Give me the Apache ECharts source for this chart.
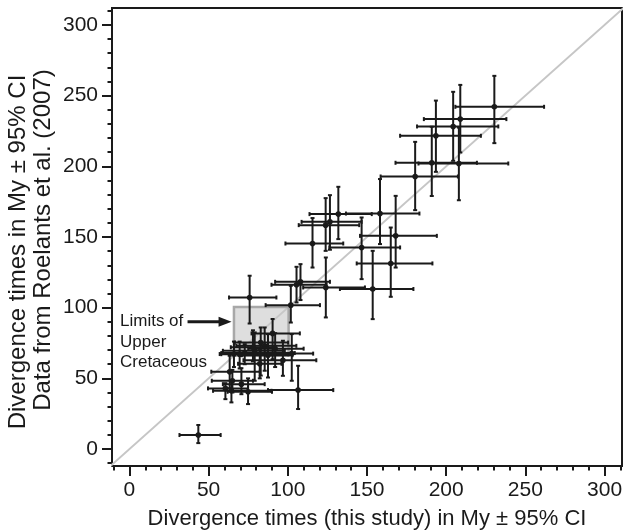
<!DOCTYPE html>
<html><head><meta charset="utf-8">
<script src="https://cdn.jsdelivr.net/npm/echarts@6/dist/echarts.min.js"></script>
<style>html,body{margin:0;padding:0;background:#fff}#c{width:623px;height:531px}</style>
</head><body><div id="c"></div>
<script>
// Divergence time estimates: this study (x) vs Roelants et al. 2007 (y), with 95% CI
const xValues = [230.4,208.9,204.4,193.5,190.9,208.0,180.4,158.2,168.1,131.9,126.6,123.9,115.6,146.6,165.0,153.6,124.0,108.0,105.5,101.9,75.9,106.5,43.5,
  90.4,82.9,85.4,79.1,72.8,69.6,87.5,96.9,102.5,82.3,63.3,60.6,64.4,70.7,74.9,65.0,66.0,92.0,78.0];
const yValues = [242.1,233.4,228.2,221.6,202.5,202.0,192.8,166.6,150.8,166.2,160.7,158.4,145.4,142.6,131.3,113.2,114.3,118.3,116.2,101.8,107.2,41.7,9.9,
  81.8,75.3,73.0,69.5,67.9,67.1,66.4,62.8,67.5,60.3,54.7,42.9,41.2,45.9,40.5,48.3,67.2,71.0,72.0];
const xLower = [205.8,185.9,181.6,170.9,168.0,182.5,158.6,136.7,145.6,113.7,108.7,106.9,98.5,126.2,143.5,132.9,109.7,92.0,89.7,86.0,62.9,87.5,31.6,
  77.1,66.5,67.5,59.0,58.0,58.0,71.0,72.0,86.0,68.6,51.7,49.6,52.8,59.0,62.0,52.0,57.0,75.0,64.0];
const xUpper = [261.8,238.0,232.9,221.9,219.4,239.2,207.4,183.1,194.1,153.0,146.6,145.1,135.0,170.9,191.3,179.3,148.7,126.6,124.5,120.3,92.8,128.7,57.6,
  107.6,100.2,105.4,98.1,104.4,100.2,103.0,118.0,116.0,96.0,82.3,74.9,89.7,85.4,90.0,78.0,81.2,110.0,92.0];
const yLower = [216.4,209.8,203.9,196.1,179.0,176.0,169.0,145.0,128.4,148.5,141.0,140.2,128.4,120.2,107.7,91.9,93.1,105.4,103.7,89.5,88.8,28.3,4.2,
  63.5,52.0,55.4,48.3,60.0,57.0,50.6,51.8,48.3,50.0,43.0,35.3,33.0,38.8,31.8,40.0,58.0,58.0,62.0];
const yUpper = [264.0,257.6,252.7,246.5,228.0,227.4,217.3,191.0,179.1,185.5,179.6,177.5,163.4,163.8,156.7,140.2,135.5,130.8,128.9,115.5,122.6,58.9,17.0,
  92.0,86.0,86.0,82.5,74.2,76.0,81.3,76.6,81.3,70.0,66.0,46.6,48.3,57.2,50.0,56.0,76.0,82.0,84.0];

const xTickValues = [0,50,100,150,200,250,300];
const yTickValues = [0,50,100,150,200,250,300];
const minorTickValues = [-10,0,10,20,30,40,50,60,70,80,90,100,110,120,130,140,150,160,170,180,190,200,210,220,230,240,250,260,270,280,290,300,310];
const cretaceousLimits = [66, 100.5];
const arrowFrom = [36.7, 90.0];
const arrowTo = [64.5, 90.0];
const diagonalLine = [[-12,-12],[312,312]];
const annotationLines = ['Limits of', 'Upper', 'Cretaceous'];
const xTitle = 'Divergence times (this study) in My ± 95% CI';
const yTitle1 = 'Divergence times in My ± 95% CI';
const yTitle2 = 'Data from Roelants et al. (2007)';

const INK = '#1a1a1a';
const FONT = '"Liberation Sans", Arial, Helvetica, sans-serif';

const errData = xValues.map((x, i) => [x, yValues[i], xLower[i], xUpper[i], yLower[i], yUpper[i]]);

const chart = echarts.init(document.getElementById('c'), null, {renderer: 'canvas'});

function labelAxis(ticks, extra) {
  return Object.assign({
    type: 'value',
    axisLine: {show: false, onZero: false},
    axisTick: {show: false},
    axisLabel: {show: true, customValues: ticks, color: INK, fontSize: 21, fontFamily: FONT, margin: 14},
    splitLine: {show: false}
  }, extra);
}
function tickAxis(ticks, len, extra) {
  return Object.assign({
    type: 'value',
    axisLine: {show: false, onZero: false},
    axisTick: {show: true, inside: false, customValues: ticks, length: len, lineStyle: {color: INK, width: 2}},
    axisLabel: {show: false},
    splitLine: {show: false}
  }, extra);
}

chart.setOption({
  animation: false,
  backgroundColor: '#fff',
  grid: {left: 112, right: 1, top: 8, bottom: 65, show: true, borderColor: INK, borderWidth: 2,
    backgroundColor: 'transparent', containLabel: false, outerBoundsMode: 'none'},
  xAxis: [
    labelAxis(xTickValues, {min: -11, max: 311, position: 'bottom',
      name: xTitle, nameLocation: 'middle', nameGap: 42,
      nameTextStyle: {color: INK, fontSize: 22, fontFamily: FONT}}),
    tickAxis(minorTickValues, 4.5, {min: -11, max: 311, position: 'bottom', offset: 0}),
    tickAxis(xTickValues, 10, {min: -11, max: 311, position: 'bottom', offset: 0})
  ],
  yAxis: [
    labelAxis(yTickValues, {min: -12, max: 312, position: 'left'}),
    tickAxis(minorTickValues, 4.5, {min: -12, max: 312, position: 'left', offset: 0}),
    tickAxis(yTickValues, 10, {min: -12, max: 312, position: 'left', offset: 0})
  ],
  graphic: [
    {type: 'text', x: 18, y: 252, rotation: Math.PI / 2, style: {text: yTitle1, fill: INK, font: '24px ' + FONT, textAlign: 'center', textVerticalAlign: 'middle'}},
    {type: 'text', x: 43, y: 240, rotation: Math.PI / 2, style: {text: yTitle2, fill: INK, font: '24px ' + FONT, textAlign: 'center', textVerticalAlign: 'middle'}},
    {type: 'text', x: 120, y: 321, style: {text: annotationLines[0], fill: INK, font: '17px ' + FONT, textAlign: 'left', textVerticalAlign: 'middle'}},
    {type: 'text', x: 120, y: 342, style: {text: annotationLines[1], fill: INK, font: '17px ' + FONT, textAlign: 'left', textVerticalAlign: 'middle'}},
    {type: 'text', x: 120, y: 362, style: {text: annotationLines[2], fill: INK, font: '17px ' + FONT, textAlign: 'left', textVerticalAlign: 'middle'}}
  ],
  series: [
    {
      type: 'line', data: diagonalLine, symbol: 'none', silent: true, z: 1,
      lineStyle: {color: '#c6c6c6', width: 2}
    },
    {
      type: 'custom', z: 2, silent: true,
      data: [[cretaceousLimits[0], cretaceousLimits[1], cretaceousLimits[0], cretaceousLimits[1]]],
      renderItem: function (params, api) {
        const p0 = api.coord([api.value(0), api.value(2)]);
        const p1 = api.coord([api.value(1), api.value(3)]);
        return {type: 'rect', shape: {x: p0[0], y: p1[1], width: p1[0] - p0[0], height: p0[1] - p1[1]},
          style: {fill: 'rgba(200,200,200,0.6)', stroke: '#a8a8a8', lineWidth: 2.5}};
      }
    },
    {
      type: 'custom', z: 3, silent: true,
      data: [[arrowFrom[0], arrowFrom[1], arrowTo[0], arrowTo[1]]],
      renderItem: function (params, api) {
        const a = api.coord([api.value(0), api.value(1)]);
        const b = api.coord([api.value(2), api.value(3)]);
        return {type: 'group', children: [
          {type: 'line', shape: {x1: a[0], y1: a[1], x2: b[0] - 10, y2: b[1]}, style: {stroke: INK, lineWidth: 3}},
          {type: 'polygon', shape: {points: [[b[0], b[1]], [b[0] - 13, b[1] - 5], [b[0] - 13, b[1] + 5]]}, style: {fill: INK}}
        ]};
      }
    },
    {
      type: 'custom', z: 4, silent: true, clip: false,
      data: errData,
      renderItem: function (params, api) {
        const x = api.value(0), y = api.value(1);
        const c = api.coord([x, y]);
        const l = api.coord([api.value(2), y]);
        const r = api.coord([api.value(3), y]);
        const b = api.coord([x, api.value(4)]);
        const t = api.coord([x, api.value(5)]);
        const st = {stroke: INK, lineWidth: 2};
        const cap = 2;
        return {type: 'group', children: [
          {type: 'line', shape: {x1: l[0], y1: c[1], x2: r[0], y2: c[1]}, style: st},
          {type: 'line', shape: {x1: c[0], y1: t[1], x2: c[0], y2: b[1]}, style: st},
          {type: 'line', shape: {x1: l[0], y1: c[1] - cap, x2: l[0], y2: c[1] + cap}, style: st},
          {type: 'line', shape: {x1: r[0], y1: c[1] - cap, x2: r[0], y2: c[1] + cap}, style: st},
          {type: 'line', shape: {x1: c[0] - cap, y1: t[1], x2: c[0] + cap, y2: t[1]}, style: st},
          {type: 'line', shape: {x1: c[0] - cap, y1: b[1], x2: c[0] + cap, y2: b[1]}, style: st},
          {type: 'circle', shape: {cx: c[0], cy: c[1], r: 2.8}, style: {fill: INK}}
        ]};
      }
    }
  ]
});
</script></body></html>
